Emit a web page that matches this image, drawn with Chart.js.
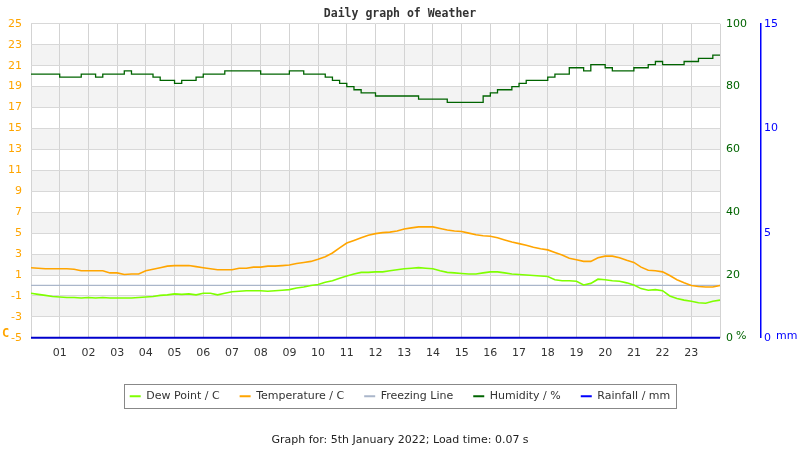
<!DOCTYPE html>
<html>
<head>
<meta charset="utf-8">
<title>Daily graph of Weather</title>
<script src="https://cdn.jsdelivr.net/npm/chart.js@4/dist/chart.umd.min.js"></script>
<style>
  body { margin: 0; background: #fff; }
  #wrap { width: 800px; height: 450px; position: relative; }
</style>
</head>
<body>
<div id="wrap"><canvas id="weatherChart"></canvas></div>
<script>
// readings every 15 minutes, 00:00 to 24:00
const timeLabels = [
  '00:00','00:15','00:30','00:45','01:00','01:15','01:30','01:45','02:00','02:15','02:30','02:45',
  '03:00','03:15','03:30','03:45','04:00','04:15','04:30','04:45','05:00','05:15','05:30','05:45',
  '06:00','06:15','06:30','06:45','07:00','07:15','07:30','07:45','08:00','08:15','08:30','08:45',
  '09:00','09:15','09:30','09:45','10:00','10:15','10:30','10:45','11:00','11:15','11:30','11:45',
  '12:00','12:15','12:30','12:45','13:00','13:15','13:30','13:45','14:00','14:15','14:30','14:45',
  '15:00','15:15','15:30','15:45','16:00','16:15','16:30','16:45','17:00','17:15','17:30','17:45',
  '18:00','18:15','18:30','18:45','19:00','19:15','19:30','19:45','20:00','20:15','20:30','20:45',
  '21:00','21:15','21:30','21:45','22:00','22:15','22:30','22:45','23:00','23:15','23:30','23:45',
  '24:00'
];
const hourTicks = ['01','02','03','04','05','06','07','08','09','10','11','12',
                   '13','14','15','16','17','18','19','20','21','22','23'];

const dewPoint = [
  -0.75,-0.85,-0.95,-1.05,-1.1,-1.15,-1.15,-1.2,-1.15,-1.2,
  -1.15,-1.2,-1.2,-1.2,-1.2,-1.15,-1.1,-1.05,-0.95,-0.9,
  -0.8,-0.85,-0.8,-0.9,-0.75,-0.75,-0.9,-0.75,-0.6,-0.55,
  -0.5,-0.5,-0.5,-0.55,-0.5,-0.45,-0.4,-0.25,-0.15,0.0,
  0.1,0.3,0.45,0.7,0.9,1.1,1.25,1.25,1.3,1.3,
  1.4,1.5,1.6,1.65,1.7,1.65,1.6,1.4,1.25,1.2,
  1.15,1.1,1.1,1.2,1.3,1.3,1.2,1.1,1.05,1.0,
  0.95,0.9,0.85,0.55,0.45,0.45,0.4,0.05,0.2,0.6,
  0.55,0.45,0.4,0.25,0.05,-0.3,-0.45,-0.4,-0.5,-1.0,
  -1.25,-1.4,-1.5,-1.65,-1.7,-1.5,-1.4
];
const temperature = [
  1.7,1.65,1.6,1.6,1.6,1.6,1.55,1.4,1.4,1.4,
  1.4,1.2,1.2,1.05,1.1,1.1,1.4,1.55,1.7,1.85,
  1.9,1.9,1.9,1.8,1.7,1.6,1.5,1.5,1.5,1.65,
  1.65,1.75,1.75,1.85,1.85,1.9,1.95,2.1,2.2,2.3,
  2.5,2.75,3.1,3.6,4.05,4.3,4.55,4.8,4.95,5.05,
  5.1,5.2,5.4,5.5,5.6,5.6,5.6,5.45,5.3,5.2,
  5.15,5.0,4.85,4.75,4.7,4.55,4.35,4.15,4.0,3.85,
  3.65,3.5,3.4,3.15,2.9,2.6,2.45,2.3,2.3,2.65,
  2.8,2.8,2.65,2.4,2.2,1.75,1.45,1.4,1.3,0.95,
  0.55,0.25,0.0,-0.1,-0.15,-0.15,0.0
];
const humidity = [
  84,84,84,84,83,83,83,84,84,83,
  84,84,84,85,84,84,84,83,82,82,
  81,82,82,83,84,84,84,85,85,85,
  85,85,84,84,84,84,85,85,84,84,
  84,83,82,81,80,79,78,78,77,77,
  77,77,77,77,76,76,76,76,75,75,
  75,75,75,77,78,79,79,80,81,82,
  82,82,83,84,84,86,86,85,87,87,
  86,85,85,85,86,86,87,88,87,87,
  87,88,88,89,89,90,90
];
// flat lines: start and end of the day
const freezingLine = [0, 0];
const rainfall = [0, 0];

const tempTicks = [-5,-3,-1,1,3,5,7,9,11,13,15,17,19,21,23,25];
const humidityTicks = [0,20,40,60,80,100];
const rainTicks = [0,5,10,15];

const dayEnds = [timeLabels[0], timeLabels[timeLabels.length - 1]];

Chart.defaults.font.family = "'DejaVu Sans', sans-serif";
Chart.defaults.font.size = 11;
Chart.defaults.color = '#333';

// grey bands between every other grid line
const bandPlugin = {
    id: 'bands',
    beforeDraw(chart) {
        const { ctx, chartArea, scales } = chart;
        const ticks = scales.y.ticks;
        ctx.save();
        ctx.fillStyle = '#f3f3f3';
        for (let i = 1; i < ticks.length - 1; i += 2) {
            const yLow = scales.y.getPixelForValue(ticks[i].value);
            const yHigh = scales.y.getPixelForValue(ticks[i + 1].value);
            ctx.fillRect(chartArea.left, yHigh, chartArea.right - chartArea.left, yLow - yHigh);
        }
        ctx.restore();
    }
};

// frame round the legend + unit labels
const extrasPlugin = {
    id: 'extras',
    afterDraw(chart) {
        const { ctx, chartArea, scales } = chart;
        const boxes = chart.legend.legendHitBoxes;
        if (boxes && boxes.length) {
            const left = Math.min(...boxes.map(b => b.left));
            const right = Math.max(...boxes.map(b => b.left + b.width));
            const top = Math.min(...boxes.map(b => b.top));
            const bottom = Math.max(...boxes.map(b => b.top + b.height));
            ctx.save();
            ctx.strokeStyle = '#888';
            ctx.lineWidth = 1;
            ctx.strokeRect(Math.round(left - 6) + 0.5, Math.round(top - 7) + 0.5,
                           Math.round(right - left + 11), Math.round(bottom - top + 13));
            ctx.restore();
        }
        ctx.save();
        ctx.textBaseline = 'alphabetic';
        ctx.textAlign = 'left';
        ctx.font = "bold 12px 'DejaVu Sans Mono'";
        ctx.fillStyle = '#FFA500';
        ctx.fillText('C', scales.y.left + 2, chartArea.bottom - 1);
        ctx.font = "11px 'DejaVu Sans'";
        ctx.fillStyle = '#006400';
        ctx.fillText('%', chartArea.right + 16, chartArea.bottom + 1);
        ctx.fillStyle = '#0000FF';
        ctx.fillText('mm', scales.y2.left + 15, chartArea.bottom + 1);
        ctx.restore();
    }
};

const ctx = document.getElementById('weatherChart').getContext('2d');
new Chart(ctx, {
    type: 'line',
    data: {
        labels: timeLabels,
        datasets: [
            {
                label: 'Dew Point / C',
                data: dewPoint,
                yAxisID: 'y',
                borderColor: '#7FFF00',
                backgroundColor: '#7FFF00',
                borderWidth: 1.6,
                order: 3
            },
            {
                label: 'Temperature / C',
                data: temperature,
                yAxisID: 'y',
                borderColor: '#FFA500',
                backgroundColor: '#FFA500',
                borderWidth: 1.6,
                order: 2
            },
            {
                label: 'Freezing Line',
                data: freezingLine.map((v, i) => ({ x: dayEnds[i], y: v })),
                yAxisID: 'y',
                borderColor: '#AAB6CA',
                backgroundColor: '#AAB6CA',
                borderWidth: 1.2,
                order: 4
            },
            {
                label: 'Humidity / %',
                data: humidity,
                yAxisID: 'y1',
                borderColor: '#006400',
                backgroundColor: '#006400',
                borderWidth: 1.3,
                stepped: true,
                order: 1
            },
            {
                label: 'Rainfall / mm',
                data: rainfall.map((v, i) => ({ x: dayEnds[i], y: v })),
                yAxisID: 'y2',
                borderColor: '#0000CC',
                backgroundColor: '#0000FF',
                borderWidth: 2,
                clip: false,
                order: 0
            }
        ]
    },
    options: {
        responsive: true,
        maintainAspectRatio: false,
        animation: false,
        elements: { point: { radius: 0 } },
        layout: { padding: { top: 1, bottom: 3, left: 0, right: 0 } },
        plugins: {
            title: {
                display: true,
                text: 'Daily graph of Weather',
                color: '#333',
                font: { family: "'DejaVu Sans Mono'", size: 11.5, weight: 'bold' },
                padding: { top: 6, bottom: 3 }
            },
            subtitle: {
                display: true,
                position: 'bottom',
                text: 'Graph for: 5th January 2022; Load time: 0.07 s',
                color: '#222',
                font: { size: 11 },
                padding: { top: 22, bottom: 0 }
            },
            legend: {
                position: 'bottom',
                labels: {
                    boxWidth: 11,
                    boxHeight: 2,
                    padding: 20,
                    color: '#333',
                    font: { size: 11 },
                    sort: (a, b) => a.datasetIndex - b.datasetIndex,
                    generateLabels(chart) {
                        return Chart.defaults.plugins.legend.labels.generateLabels(chart)
                            .map(l => Object.assign(l, { lineWidth: 0 }));
                    }
                }
            },
            tooltip: { enabled: false }
        },
        scales: {
            x: {
                type: 'category',
                offset: false,
                grid: {
                    color: c => (c.index % 4 === 0 ? '#d3d3d3' : 'rgba(0,0,0,0)'),
                    drawTicks: false
                },
                border: { display: false },
                ticks: {
                    autoSkip: false,
                    maxRotation: 0,
                    padding: 9,
                    color: '#333',
                    callback: (v, i) => (i % 4 === 0 && i > 0 && i < 96 ? hourTicks[i / 4 - 1] : '')
                },
                afterFit(scale) { scale.height = 33; }
            },
            y: {
                position: 'left',
                min: -5,
                max: 25,
                afterBuildTicks(scale) { scale.ticks = tempTicks.map(v => ({ value: v })); },
                grid: { color: '#d8d8d8', drawTicks: false },
                border: { display: false },
                ticks: { color: '#FFA500', padding: 9 },
                afterFit(scale) { scale.width = 31; }
            },
            y1: {
                position: 'right',
                min: 0,
                max: 100,
                afterBuildTicks(scale) { scale.ticks = humidityTicks.map(v => ({ value: v })); },
                grid: { display: false, drawTicks: false },
                border: { display: false },
                ticks: { color: '#006400', padding: 6 },
                afterFit(scale) { scale.width = 41; }
            },
            y2: {
                position: 'right',
                min: 0,
                max: 15,
                afterBuildTicks(scale) { scale.ticks = rainTicks.map(v => ({ value: v })); },
                grid: { display: false, drawTicks: false },
                border: { display: true, color: '#0000FF', width: 1.5 },
                ticks: { color: '#0000FF', padding: 3 },
                afterFit(scale) { scale.width = 39; }
            }
        }
    },
    plugins: [bandPlugin, extrasPlugin]
});
</script>
</body>
</html>
